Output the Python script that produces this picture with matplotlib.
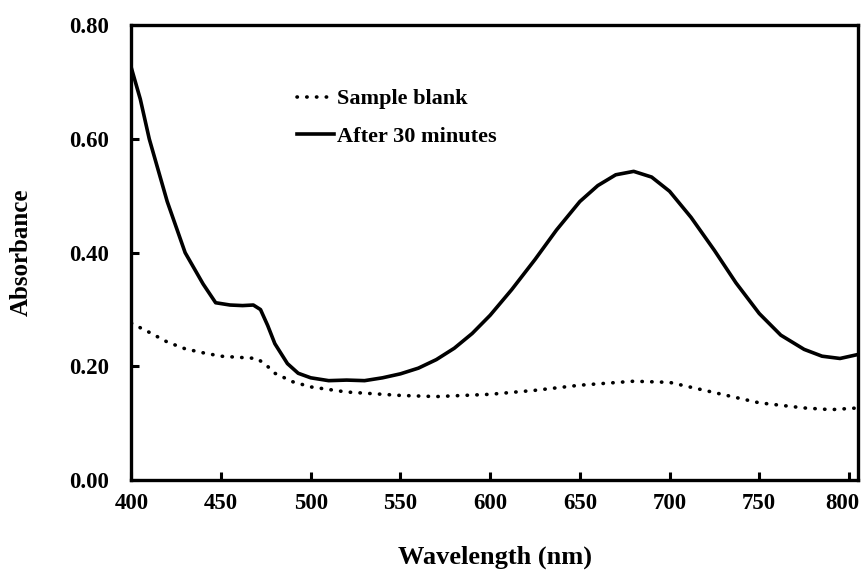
import matplotlib.pyplot as plt
import matplotlib.transforms as mtransforms

# Espectros
wl_after = [400, 405, 410, 420, 430, 440, 447, 455, 462, 468, 472, 476, 480, 487, 493, 500,
            510, 520, 530, 540, 550, 560, 570, 580, 590, 600, 612, 625, 637, 650, 660, 670,
            680, 690, 700, 712, 725, 737, 750, 762, 775, 785, 795, 805]
abs_after = [0.725, 0.67, 0.60, 0.49, 0.40, 0.345, 0.312, 0.308, 0.307, 0.308, 0.300, 0.272,
             0.240, 0.205, 0.188, 0.180, 0.175, 0.176, 0.175, 0.180, 0.187, 0.197, 0.212, 0.232,
             0.258, 0.290, 0.335, 0.388, 0.440, 0.490, 0.518, 0.537, 0.543, 0.533, 0.508,
             0.462, 0.404, 0.347, 0.293, 0.255, 0.230, 0.218, 0.214, 0.221]

wl_blank = [400, 410, 420, 430, 440, 450, 460, 470, 475, 480, 490, 500, 520, 550, 570, 600,
            625, 650, 680, 700, 725, 750, 775, 790, 805]
abs_blank = [0.276, 0.260, 0.243, 0.231, 0.224, 0.218, 0.216, 0.214, 0.203, 0.188, 0.173,
             0.164, 0.155, 0.149, 0.147, 0.151, 0.158, 0.167, 0.174, 0.172, 0.154, 0.136,
             0.127, 0.124, 0.127]

plt.rcParams['font.family'] = ['Liberation Serif', 'DejaVu Serif']
plt.rcParams['font.weight'] = 'bold'

fig = plt.figure(figsize=(8.64, 5.73), dpi=100)
ax = fig.add_axes([0.152, 0.162, 0.841, 0.794])

ax.plot(wl_blank, abs_blank, color='black', lw=2.6, linestyle=(0, (0.1, 2.6)),
        dash_capstyle='round', label='Sample blank')
ax.plot(wl_after, abs_after, color='black', lw=2.6, label='After 30 minutes')

ax.set_xlim(400, 805)
ax.set_ylim(0, 0.80)
ax.set_xticks(range(400, 801, 50))
ax.set_yticks([0.0, 0.2, 0.4, 0.6, 0.8])
ax.set_yticklabels(['0.00', '0.20', '0.40', '0.60', '0.80'])

for s in ax.spines.values():
    s.set_linewidth(2.4)
ax.tick_params(direction='in', length=6, width=2.2, labelsize=16.5)
ax.tick_params(axis='y', pad=16)
ax.tick_params(axis='x', pad=9)

# el "800" queda un poco a la izquierda de su marca para no salirse
last = ax.get_xticklabels()[-1]
last.set_transform(last.get_transform() +
                   mtransforms.ScaledTranslation(-7 / 100, 0, fig.dpi_scale_trans))

ax.set_xlabel('Wavelength (nm)', fontsize=19, fontweight='bold', labelpad=23)
ax.set_ylabel('Absorbance', fontsize=18, fontweight='bold', labelpad=26)

leg = ax.legend(loc='upper left', bbox_to_anchor=(0.2, 0.904), frameon=False,
                fontsize=16, handlelength=1.7, handletextpad=0.1, labelspacing=0.75)

fig.savefig('out.png', dpi=100)
